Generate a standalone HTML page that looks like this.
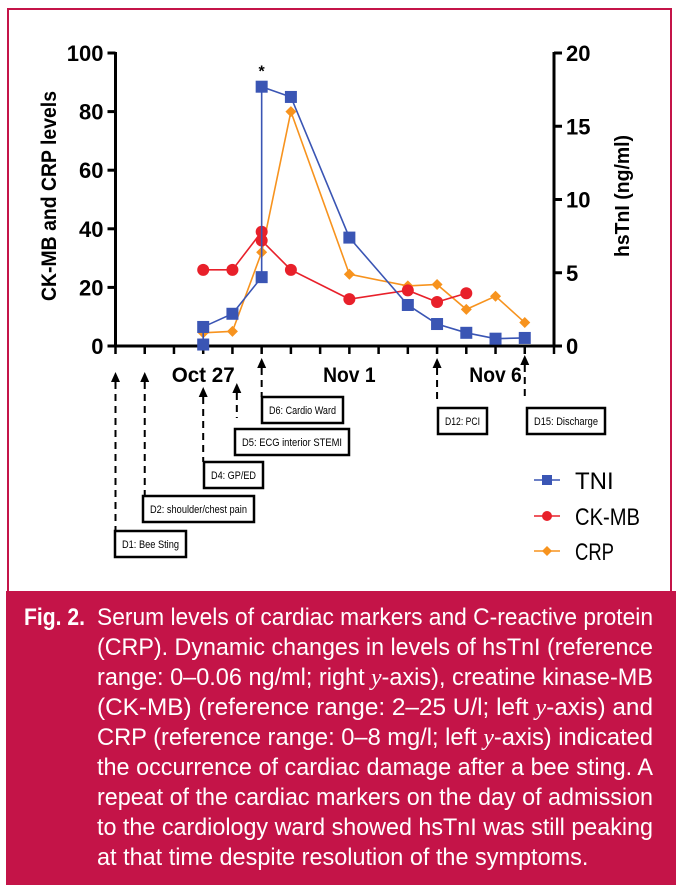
<!DOCTYPE html>
<html><head><meta charset="utf-8">
<style>
html,body{margin:0;padding:0;background:#fff;width:676px;height:896px;overflow:hidden;font-family:"Liberation Sans",sans-serif}
#frame{position:absolute;left:7px;top:8px;width:661px;height:581px;border:2px solid #c41448;border-bottom:none;box-sizing:content-box}
#cap{position:absolute;left:6px;top:591px;width:670px;height:294px;background:#c41448;color:#fff;overflow:hidden}
.ln{position:absolute;left:91px;font-family:"Liberation Sans",sans-serif;font-size:24px;line-height:30px;white-space:nowrap;transform-origin:0 0}
.fig{position:absolute;left:18px;top:12px;font-family:"Liberation Sans",sans-serif;font-weight:bold;font-size:24px;line-height:30px;transform-origin:0 0;transform:scaleX(0.88)}
i{font-family:"Liberation Serif",serif}
svg{position:absolute;left:0;top:0}
</style></head><body>
<div id="frame"></div>
<svg id="chart" width="676" height="590"></svg>
<div id="cap">
<div class="fig">Fig. 2.</div>
<div class="ln" style="top:12px">Serum levels of cardiac markers and C-reactive protein</div>
<div class="ln" style="top:42px">(CRP). Dynamic changes in levels of hsTnI (reference</div>
<div class="ln" style="top:72px">range: 0–0.06 ng/ml; right <i>y</i>-axis), creatine kinase-MB</div>
<div class="ln" style="top:102px">(CK-MB) (reference range: 2–25 U/l; left <i>y</i>-axis) and</div>
<div class="ln" style="top:132px">CRP (reference range: 0–8 mg/l; left <i>y</i>-axis) indicated</div>
<div class="ln" style="top:162px">the occurrence of cardiac damage after a bee sting. A</div>
<div class="ln" style="top:192px">repeat of the cardiac markers on the day of admission</div>
<div class="ln" style="top:222px">to the cardiology ward showed hsTnI was still peaking</div>
<div class="ln last" style="top:252px">at that time despite resolution of the symptoms.</div>
</div>
<script>
const leftTicks=[0,20,40,60,80,100];
const rightTicks=[0,5,10,15,20];
const xTickLabels=[{d:3,t:"Oct 27"},{d:8,t:"Nov 1"},{d:13,t:"Nov 6"}];
const tniDays=[3,3,4,5,5,6,8,10,11,12,13,14];
const tniVals=[0.1,1.3,2.2,4.7,17.7,17,7.4,2.8,1.5,0.9,0.5,0.55];
const ckDays=[3,4,5,5,6,8,10,11,12];
const ckVals=[26,26,39,36,26,16,19,15,18];
const crpDays=[3,4,5,6,8,10,11,12,13,14];
const crpVals=[4.5,5,32,80,24.5,20.5,21,12.5,17,8];
const events=[
 {d:0,label:"D1: Bee Sting",top:372,bx:115,by:531,bw:71},
 {d:1,label:"D2: shoulder/chest pain",top:372,bx:143,by:496,bw:111},
 {d:3,label:"D4: GP/ED",top:387,bx:204,by:462,bw:59},
 {d:4.15,label:"D5: ECG interior STEMI",top:383,bx:235,by:429,bw:114,end:418},
 {d:5,label:"D6: Cardio Ward",top:358,bx:262,by:397,bw:81},
 {d:11,label:"D12: PCI",top:358,bx:438,by:408,bw:49,end:400},
 {d:14,label:"D15: Discharge",top:355,bx:527,by:408,bw:78,end:400}
];
const X0=115.5,X1=554,Y0=346,Y1=53;
const xs=d=>X0+(X1-X0)*d/15;
const yl=v=>Y0-(Y0-Y1)*v/100;
const yr=v=>Y0-(Y0-Y1)*v/20;
const svg=document.getElementById('chart');
const NS="http://www.w3.org/2000/svg";
function mk(tag,at,txt){const e=document.createElementNS(NS,tag);for(const k in at)e.setAttribute(k,at[k]);if(txt!=null)e.textContent=txt;svg.appendChild(e);return e;}
function fitW(el,w){const bw=el.getBBox().width;if(bw>0)el.setAttribute('textLength',Math.min(w,bw));el.setAttribute('lengthAdjust','spacingAndGlyphs');}
let e=mk('line',{x1:X0,y1:Y0,x2:X1,y2:Y0,stroke:'#000','stroke-width':3});


e=mk('line',{x1:X0,y1:Y1-1,x2:X0,y2:Y0+1,stroke:'#000','stroke-width':3});


e=mk('line',{x1:X1,y1:Y1-1,x2:X1,y2:Y0+1,stroke:'#000','stroke-width':3});


for(let d=0;d<=15;d++){e=mk('line',{x1:xs(d),y1:Y0,x2:xs(d),y2:Y0+8,stroke:'#000','stroke-width':2.5});

}
for(const v of leftTicks){mk('line',{x1:X0-8,y1:yl(v),x2:X0,y2:yl(v),stroke:'#000','stroke-width':3});
e=mk('text',{x:X0-12,y:yl(v)+8,'text-anchor':'end','font-size':22,'font-weight':'bold'},v);


fitW(e,String(v).length*12.5);}
for(const v of rightTicks){mk('line',{x1:X1,y1:yr(v),x2:X1+8,y2:yr(v),stroke:'#000','stroke-width':3});
e=mk('text',{x:X1+12,y:yr(v)+8,'font-size':22,'font-weight':'bold'},v);


fitW(e,String(v).length*12.5);}
for(const t of xTickLabels){e=mk('text',{x:xs(t.d),y:382,'text-anchor':'middle','font-size':21,'font-weight':'bold'},t.t);


fitW(e,t.t.length*10.5);}
e=mk('text',{x:0,y:0,transform:'translate(56,196) rotate(-90)','text-anchor':'middle','font-size':21,'font-weight':'bold'},'CK-MB and CRP levels');


fitW(e,210);
e=mk('text',{x:0,y:0,transform:'translate(629,196) rotate(-90)','text-anchor':'middle','font-size':20,'font-weight':'bold'},'hsTnI (ng/ml)');


fitW(e,122);
function series(days,vals,sc,col,shape,name){
 const pts=days.map((d,i)=>xs(d)+','+sc(vals[i])).join(' ');
 e=mk('polyline',{points:pts,fill:'none',stroke:col,'stroke-width':1.6});
 
 
 days.forEach((d,i)=>{const x=xs(d),y=sc(vals[i]);
  if(shape==='sq')e=mk('rect',{x:x-6,y:y-6,width:12,height:12,fill:col});
  else if(shape==='c')e=mk('circle',{cx:x,cy:y,r:6,fill:col});
  else e=mk('polygon',{points:`${x},${y-5.5} ${x+5.5},${y} ${x},${y+5.5} ${x-5.5},${y}`,fill:col});
  
  });
}
series(crpDays,crpVals,yl,'#f7931e','d','crp');
series(ckDays,ckVals,yl,'#e8202a','c','ck-mb');
series(tniDays,tniVals,yr,'#3a55b4','sq','tni');
e=mk('text',{x:xs(5),y:yr(17.7)-10,'text-anchor':'middle','font-size':16,'font-weight':'bold'},'*');


for(const ev of events){const x=xs(ev.d);
 mk('polygon',{points:`${x},${ev.top} ${x+4.5},${ev.top+10} ${x-4.5},${ev.top+10}`,fill:'#000'});
 e=mk('line',{x1:x,y1:ev.top+10,x2:x,y2:ev.end||ev.by,stroke:'#000','stroke-width':2,'stroke-dasharray':'7,5'});
 
 
 e=mk('rect',{x:ev.bx,y:ev.by,width:ev.bw,height:26,fill:'#fff',stroke:'#000','stroke-width':2.5});
 
 
 e=mk('text',{x:ev.bx+ev.bw/2,y:ev.by+17,'text-anchor':'middle','font-size':11},ev.label);
 
 
 fitW(e,ev.bw-14);}
const leg=[['TNI','#3a55b4','sq',480],['CK-MB','#e8202a','c',516],['CRP','#f7931e','d',551]];
for(const [t,c,s,y] of leg){const x=547;
 mk('line',{x1:534,y1:y,x2:560,y2:y,stroke:c,'stroke-width':1.6});
 if(s==='sq')mk('rect',{x:x-5,y:y-5,width:10,height:10,fill:c});
 else if(s==='c')mk('circle',{cx:x,cy:y,r:5,fill:c});
 else mk('polygon',{points:`${x},${y-5} ${x+5},${y} ${x},${y+5} ${x-5},${y}`,fill:c});
 e=mk('text',{x:575,y:y+9,'font-size':24},t);
 
 
 fitW(e,t.length*13);}
let sum=0,n=0;
document.querySelectorAll('.ln:not(.last)').forEach(el=>{const w=el.getBoundingClientRect().width;const s=556/w;sum+=s;n++;el.style.transform='scaleX('+s+')';});
document.querySelector('.ln.last').style.transform='scaleX('+(sum/n)+')';
</script>
</body></html>
